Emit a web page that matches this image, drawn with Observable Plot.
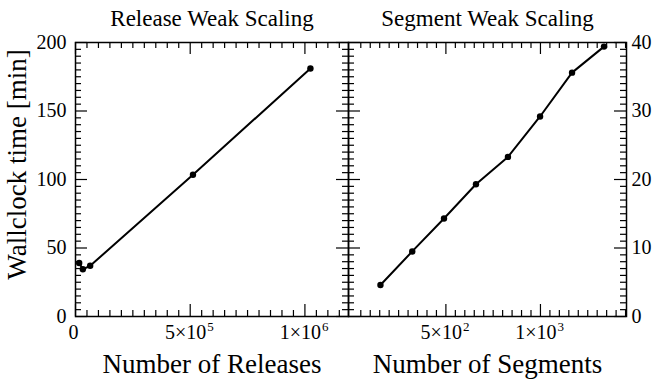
<!DOCTYPE html>
<html><head><meta charset="utf-8">
<script src="https://cdn.jsdelivr.net/npm/d3@7"></script>
<script src="https://cdn.jsdelivr.net/npm/@observablehq/plot@0.6"></script>
<style>
html,body{margin:0;padding:0;background:#fff;}
#wrap{position:relative;width:661px;height:384px;overflow:hidden;background:#fff;}
#wrap svg{position:absolute;top:0;}
#wrap svg text{font-family:"Liberation Serif","LiberationSerif","DejaVu Serif","Noto Serif",Tinos,"Times New Roman",Times,serif !important;}
</style></head><body><div id="wrap"></div>
<script>
// ---- data ----
const releases = [16000, 32000, 64000, 512000, 1024000];
const releaseTime = [39, 34.5, 37, 103.5, 181];
const segments = [154, 322, 490, 659, 828, 998, 1167, 1336];
const segmentTime = [4.6, 9.5, 14.3, 19.3, 23.3, 29.2, 35.6, 39.4];

const releaseTickValues = [0, 5e5, 1e6];
const releaseTickBase = ["0", "5×10", "1×10"];
const releaseTickExp = ["", "5", "6"];
const segmentTickValues = [500, 1000];
const segmentTickBase = ["5×10", "1×10"];
const segmentTickExp = ["2", "3"];
const releaseYTicks = [0, 50, 100, 150, 200];
const segmentYTicks = [0, 10, 20, 30, 40];

const titles = ["Release Weak Scaling", "Segment Weak Scaling"];
const xTitles = ["Number of Releases", "Number of Segments"];
const yTitle = "Wallclock time [min]";

// ---- layout ----
const FONT = "Liberation Serif";
const H = 384, MT = 42, MB = 68, FH = H - MT - MB;
const MAJ = 12, MIN = 6;

function panel(o) {
  const FW = o.width - o.marginLeft - o.marginRight;
  const pts = o.xs.map((x, i) => ({x, y: o.ys[i]}));
  const labels = o.tickValues.map((v, i) => ({v, base: o.tickBase[i], exp: o.tickExp[i]}));
  const yMinor = d3.range(o.yDomain[0], o.yDomain[1] + 1e-9, o.yMinorStep).filter(v => !o.yMajor.includes(v));
  const xMinor = d3.range(o.xMinorStart, o.xDomain[1], o.xMinorStep).filter(v => !o.tickValues.includes(v));
  const tk = {stroke: "black", strokeWidth: 1.2};
  const marks = [
    Plot.tickX(o.tickValues, {x: d => d, insetTop: FH - MAJ, ...tk}),
    Plot.tickX(o.tickValues, {x: d => d, insetBottom: FH - MAJ, ...tk}),
    Plot.tickX(xMinor, {x: d => d, insetTop: FH - MIN, ...tk}),
    Plot.tickX(xMinor, {x: d => d, insetBottom: FH - MIN, ...tk}),
    Plot.tickY(o.yMajor, {y: d => d, insetRight: FW - MAJ, ...tk}),
    Plot.tickY(o.yMajor, {y: d => d, insetLeft: FW - MAJ, ...tk}),
    Plot.tickY(yMinor, {y: d => d, insetRight: FW - MIN, ...tk}),
    Plot.tickY(yMinor, {y: d => d, insetLeft: FW - MIN, ...tk}),
    Plot.frame({stroke: "black", strokeWidth: 1.5}),
    Plot.line(pts, {x: "x", y: "y", stroke: "black", strokeWidth: 2}),
    Plot.dot(pts, {x: "x", y: "y", r: 3.2, fill: "black", stroke: "none"}),
    Plot.text(labels.filter(d => !d.exp), {x: "v", text: "base", frameAnchor: "bottom", lineAnchor: "bottom", textAnchor: "middle", dy: 22, dx: -2, fontSize: 20, fontFamily: FONT, fill: "black"}),
    Plot.text(labels.filter(d => d.exp), {x: "v", text: "base", frameAnchor: "bottom", lineAnchor: "bottom", textAnchor: "end", dy: 22, dx: 16, fontSize: 20, fontFamily: FONT, fill: "black"}),
    Plot.text(labels.filter(d => d.exp), {x: "v", text: "exp", frameAnchor: "bottom", lineAnchor: "bottom", textAnchor: "start", dy: 14, dx: 17, fontSize: 13, fontFamily: FONT, fill: "black"}),
    o.ySide === "left"
      ? Plot.text(o.yMajor, {y: d => d, text: d => String(d), frameAnchor: "left", textAnchor: "end", lineAnchor: "middle", dx: -9, fontSize: 20, fontFamily: FONT, fill: "black"})
      : Plot.text(o.yMajor, {y: d => d, text: d => String(d), frameAnchor: "right", textAnchor: "start", lineAnchor: "middle", dx: 5, fontSize: 20, fontFamily: FONT, fill: "black"}),
    Plot.text([o.title], {text: d => d, frameAnchor: "top", lineAnchor: "bottom", textAnchor: "middle", dy: -17, fontSize: 23, fontFamily: FONT, fill: "black"}),
    Plot.text([o.xTitle], {text: d => d, frameAnchor: "bottom", lineAnchor: "bottom", textAnchor: "middle", dy: 56, fontSize: 27, fontFamily: FONT, fill: "black"})
  ];
  if (o.yTitle) marks.push(Plot.text([o.yTitle], {text: d => d, frameAnchor: "left", lineAnchor: "bottom", textAnchor: "middle", rotate: -90, dx: -50, dy: -15, fontSize: 27, fontFamily: FONT, fill: "black"}));
  const svg = Plot.plot({
    width: o.width, height: H,
    marginLeft: o.marginLeft, marginRight: o.marginRight, marginTop: MT, marginBottom: MB,
    style: {background: "transparent", overflow: "visible"},
    x: {domain: o.xDomain, axis: null},
    y: {domain: o.yDomain, axis: null},
    marks
  });
  svg.style.left = o.left + "px";
  return svg;
}

const wrap = document.getElementById("wrap");
wrap.appendChild(panel({
  left: 0, width: 350, marginLeft: 75, marginRight: 2,
  xs: releases, ys: releaseTime,
  xDomain: [0, 1.19e6], yDomain: [0, 200],
  tickValues: releaseTickValues, tickBase: releaseTickBase, tickExp: releaseTickExp,
  xMinorStart: 0, xMinorStep: 5e4,
  yMajor: releaseYTicks, yMinorStep: 5, ySide: "left",
  title: titles[0], xTitle: xTitles[0], yTitle
}));
wrap.appendChild(panel({
  left: 346, width: 315, marginLeft: 2, marginRight: 35,
  xs: segments, ys: segmentTime,
  xDomain: [-15, 1455], yDomain: [0, 40],
  tickValues: segmentTickValues, tickBase: segmentTickBase, tickExp: segmentTickExp,
  xMinorStart: 50, xMinorStep: 50,
  yMajor: segmentYTicks, yMinorStep: 1, ySide: "right",
  title: titles[1], xTitle: xTitles[1]
}));
</script></body></html>
